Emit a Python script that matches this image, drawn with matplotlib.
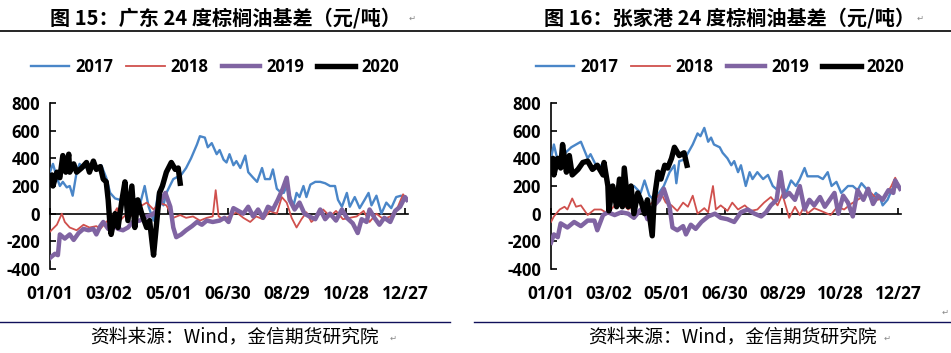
import matplotlib
matplotlib.use("Agg")
import matplotlib.pyplot as plt
from matplotlib.lines import Line2D

plt.rcParams['font.family'] = ['Open Sans', 'DejaVu Sans']

# ---------------- data (day of year, basis in 元/吨) ----------------
tick_days = [0, 60, 120, 180, 240, 300, 360]
tick_labels = ["01/01", "03/02", "05/01", "06/30", "08/29", "10/28", "12/27"]
y_ticks = [-400, -200, 0, 200, 400, 600, 800]
series_names = ["2017", "2018", "2019", "2020"]

# 广东
gd17_x = [0, 3, 7, 10, 13, 17, 20, 23, 27, 30, 34, 40, 47, 52, 57, 61, 66, 71, 76, 83, 91, 96, 100, 105,
          110, 115, 118, 125, 133, 138, 143, 149, 152, 157, 160, 164, 169, 172, 176, 179, 182, 186, 189,
          193, 198, 201, 206, 210, 215, 218, 223, 226, 230, 233, 237, 240, 243, 247, 250, 253, 257, 260,
          264, 269, 274, 279, 284, 289, 292, 296, 301, 304, 309, 314, 319, 323, 326, 331, 336, 341, 346,
          351, 356, 361]
gd17_y = [300, 360, 260, 200, 230, 190, 200, 130, 300, 360, 330, 350, 320, 350, 260, 150, 110, 100, 80,
          60, 60, 200, 50, -50, 160, 60, 150, 250, 280, 330, 400, 500, 560, 550, 480, 510, 430, 460, 390,
          370, 430, 350, 380, 330, 420, 300, 260, 230, 330, 250, 250, 320, 180, 160, 150, 200, 130, 60,
          150, 120, 200, 120, 210, 230, 230, 220, 200, 200, 100, 50, 150, 50, 120, 40, 100, 150, 60, 130,
          0, 80, 40, 120, 130, 110]

gd18_x = [0, 7, 12, 15, 20, 27, 34, 40, 47, 51, 57, 62, 68, 71, 78, 84, 91, 98, 105, 111, 118, 125, 132,
          138, 145, 152, 159, 165, 168, 171, 176, 182, 189, 196, 203, 209, 216, 223, 230, 235, 240, 245,
          250, 255, 260, 265, 270, 277, 284, 290, 297, 304, 311, 318, 324, 331, 338, 345, 351, 358, 362]
gd18_y = [-130, -80, 0, -60, -100, -120, -80, -100, -90, -110, -60, -30, 40, -50, 0, -20, 50, 80, 30, 80,
          60, -30, -10, -30, -20, -50, -30, -20, 170, -20, -40, -20, 10, -30, -60, -20, -40, 20, 0, 120,
          80, -30, -100, -40, 10, -60, -30, 30, -20, 20, -40, -30, -20, 20, -60, 0, -40, -20, 20, 140, 100]

gd19_x = [0, 5, 8, 10, 15, 20, 24, 29, 34, 39, 44, 47, 51, 54, 59, 64, 69, 74, 79, 84, 91, 98, 103, 108,
          113, 117, 122, 125, 128, 133, 138, 144, 149, 154, 159, 165, 172, 177, 181, 186, 191, 196, 201,
          206, 211, 216, 221, 226, 231, 236, 240, 243, 248, 253, 258, 263, 269, 274, 279, 284, 290, 296,
          301, 307, 312, 316, 321, 324, 329, 334, 339, 345, 350, 355, 360, 362]
gd19_y = [-320, -290, -300, -150, -180, -150, -190, -140, -110, -120, -110, -150, -90, -60, -110, -80,
          -110, -120, -100, -60, -50, -20, -10, 20, 100, 150, 50, -100, -170, -150, -120, -90, -60, -80,
          -50, -60, -50, -30, -60, 40, 20, 0, 50, -20, 30, -30, 50, 30, 100, 180, 260, 100, 30, 80, 0,
          -20, -40, 30, -40, 0, -50, 30, -30, -70, -140, -40, -60, 30, -30, -80, -30, -60, 20, 50, 120, 100]

gd20_x = [0, 2, 3, 7, 10, 13, 16, 19, 20, 24, 27, 32, 37, 40, 44, 47, 51, 54, 57, 59, 61, 62, 66, 69, 73,
          76, 79, 83, 86, 89, 93, 98, 101, 105, 107, 111, 114, 118, 123, 127, 130, 132]
gd20_y = [240, 280, 200, 300, 260, 420, 300, 430, 300, 360, 300, 330, 370, 300, 380, 320, 340, 250, 230,
          100, -100, -150, 0, -100, 100, 230, -50, 200, -100, 100, 0, -100, -50, -300, -150, 150, 200, 300,
          370, 320, 330, 220]

# 张家港
zjg17_x = [0, 3, 7, 12, 21, 31, 38, 41, 48, 52, 55, 64, 69, 74, 79, 86, 93, 97, 102, 107, 112, 117, 123,
           128, 130, 133, 138, 143, 147, 152, 155, 159, 163, 166, 169, 175, 178, 183, 187, 190, 194, 197,
           202, 206, 209, 214, 220, 225, 230, 235, 239, 244, 249, 254, 258, 263, 266, 277, 282, 287, 291,
           296, 301, 308, 313, 318, 322, 327, 332, 337, 341, 344, 349, 354, 360]
zjg17_y = [400, 500, 380, 420, 480, 520, 400, 430, 330, 350, 300, 150, 100, 150, 180, 200, 150, 240, 130,
           100, 150, 200, 300, 350, 220, 380, 390, 450, 500, 580, 560, 620, 520, 550, 500, 480, 440, 400,
           350, 380, 300, 350, 200, 300, 250, 300, 250, 280, 200, 170, 220, 150, 240, 200, 250, 330, 270,
           270, 250, 300, 200, 230, 150, 200, 200, 170, 220, 180, 100, 150, 120, 60, 100, 180, 200]

zjg18_x = [0, 3, 9, 14, 17, 22, 26, 31, 38, 45, 52, 59, 66, 73, 80, 86, 93, 100, 105, 114, 119, 125, 131,
           137, 142, 147, 152, 159, 163, 168, 171, 176, 183, 188, 194, 201, 207, 214, 221, 228, 235, 240,
           247, 253, 258, 263, 266, 273, 280, 290, 297, 304, 311, 318, 325, 332, 339, 346, 353, 357, 362]
zjg18_y = [-60, -20, 30, 50, 30, 110, 50, 60, -10, 30, 30, 0, 60, 80, 30, 60, 100, 50, 80, 150, 80, 60,
           20, 80, 50, 130, 0, 40, 10, 200, 30, 60, 20, 80, 30, 60, 20, 30, 80, 120, 60, 140, -30, 50, -10,
           60, 0, 40, 20, -10, 50, 30, 70, 100, 130, 150, 100, 120, 200, 260, 180]

zjg19_x = [0, 3, 7, 10, 17, 24, 31, 38, 45, 48, 54, 59, 66, 73, 80, 86, 93, 97, 100, 107, 112, 117, 123,
           126, 131, 137, 140, 145, 150, 156, 163, 170, 176, 183, 190, 197, 204, 211, 218, 223, 228, 234,
           238, 242, 247, 253, 258, 263, 268, 273, 279, 284, 289, 294, 298, 303, 308, 313, 318, 324, 329,
           334, 339, 344, 350, 355, 357, 362]
zjg19_y = [-210, -150, -170, -70, -100, -60, -90, -50, -50, -120, -10, 10, -10, 10, 0, -30, 30, 20, -40,
           60, 100, 180, 50, -100, -120, -90, -150, -80, -110, -60, -20, 0, -30, -40, -60, 10, 30, 0, -20,
           10, 60, 100, 300, 120, 150, 100, 200, 30, 100, 60, 120, 50, 100, 150, 0, 130, 80, -20, 170, 100,
           180, 70, 130, 100, 170, 150, 240, 180]

zjg20_x = [0, 2, 3, 7, 10, 12, 16, 19, 22, 28, 33, 38, 43, 48, 54, 55, 59, 60, 64, 68, 71, 74, 76, 80,
           83, 86, 90, 93, 97, 100, 105, 107, 111, 114, 118, 121, 125, 128, 133, 138, 141]
zjg20_y = [300, 400, 280, 400, 330, 500, 300, 420, 280, 320, 370, 380, 320, 350, 280, 370, 200, 20, 200,
           50, 250, 50, 330, 50, 200, 0, 150, 100, 0, 100, -160, 100, 300, 250, 350, 330, 400, 480, 420,
           440, 350]

panels = [
    dict(title="图 15：广东 24 度棕榈油基差（元/吨）",
         data=[(gd17_x, gd17_y), (gd18_x, gd18_y), (gd19_x, gd19_y), (gd20_x, gd20_y)]),
    dict(title="图 16：张家港 24 度棕榈油基差（元/吨）",
         data=[(zjg17_x, zjg17_y), (zjg18_x, zjg18_y), (zjg19_x, zjg19_y), (zjg20_x, zjg20_y)]),
]
source_text = "资料来源：Wind，金信期货研究院"

# ---------------- styling ----------------
colors = ["#4A86C8", "#D0504D", "#8064A2", "#000000"]
widths = [1.7, 1.3, 3.2, 3.9]

W, H = 951, 353
fig = plt.figure(figsize=(W / 100, H / 100), dpi=100)

cjk = ['Noto Sans CJK SC', 'DejaVu Sans']
num_font = ['Open Sans', 'DejaVu Sans']
axes_px = [(50, 408), (551, 901)]           # x pixel extents of plotting area
title_cx = [225, 730]
legend_cx = [215, 720]
source_cx = [234, 732]
y_top_px, y_bot_px = 103, 269

for i, p in enumerate(panels):
    x0, x1 = axes_px[i]
    ax = fig.add_axes([x0 / W, 1 - y_bot_px / H, (x1 - x0) / W, (y_bot_px - y_top_px) / H])
    handles = []
    for (xs, ys), c, lw, name in zip(p["data"], colors, widths, series_names):
        ln, = ax.plot(xs, ys, color=c, lw=lw, solid_joinstyle='round', label=name, zorder=3)
        handles.append(ln)
    ax.set_xlim(0, 363)
    ax.set_ylim(-400, 800)
    ax.set_yticks(y_ticks)
    ax.set_yticklabels([str(v) for v in y_ticks])
    ax.set_xticks(tick_days)
    ax.set_xticklabels(tick_labels)
    for s in ['top', 'right', 'bottom']:
        ax.spines[s].set_visible(False)
    ax.spines['left'].set_linewidth(1.2)
    ax.tick_params(axis='y', direction='in', length=4, width=1.2, labelsize=12, pad=7)
    ax.tick_params(axis='x', length=0, labelsize=12.5, pad=11.5)
    for lab in ax.get_xticklabels() + ax.get_yticklabels():
        lab.set_fontweight('bold')
        lab.set_family(num_font)
    # zero axis line with inward ticks
    sec = ax.secondary_xaxis(1 / 3)
    sec.set_xticks(tick_days)
    sec.spines['bottom'].set_linewidth(1.2)
    sec.xaxis.set_ticks_position('bottom')
    sec.tick_params(axis='x', direction='in', length=4, width=1.2, labelbottom=False, labeltop=False)
    sec.set_zorder(2)

    fig.legend(handles=handles, labels=series_names, loc='center', ncol=4,
               bbox_to_anchor=(legend_cx[i] / W, 1 - 67 / H), frameon=False,
               prop=dict(family=num_font, weight='bold', size=12),
               handlelength=2.3, handletextpad=0.35, columnspacing=0.8)

    fig.text(title_cx[i] / W, 1 - 18 / H, p["title"], ha='center', va='center',
             fontsize=14.5, fontweight='bold', family=cjk)
    fig.text(source_cx[i] / W, 1 - 337 / H, source_text, ha='center', va='center',
             fontsize=13.5, family=cjk)

# paragraph marks
for xm, ym in [(412, 18), (920, 18), (393, 338), (887, 338), (945, 312)]:
    fig.text(xm / W, 1 - ym / H, "↵", ha='center', va='center', fontsize=6, color='#888888',
             family=['DejaVu Sans'])

# document rules
fig.add_artist(Line2D([0, 1], [1 - 31 / H, 1 - 31 / H], color='black', lw=1.2))
fig.add_artist(Line2D([0, 450 / W], [1 - 322 / H, 1 - 322 / H], color='#10105A', lw=1.0))
fig.add_artist(Line2D([474 / W, 1], [1 - 322 / H, 1 - 322 / H], color='#10105A', lw=1.0))

fig.savefig("out.png", dpi=100)
